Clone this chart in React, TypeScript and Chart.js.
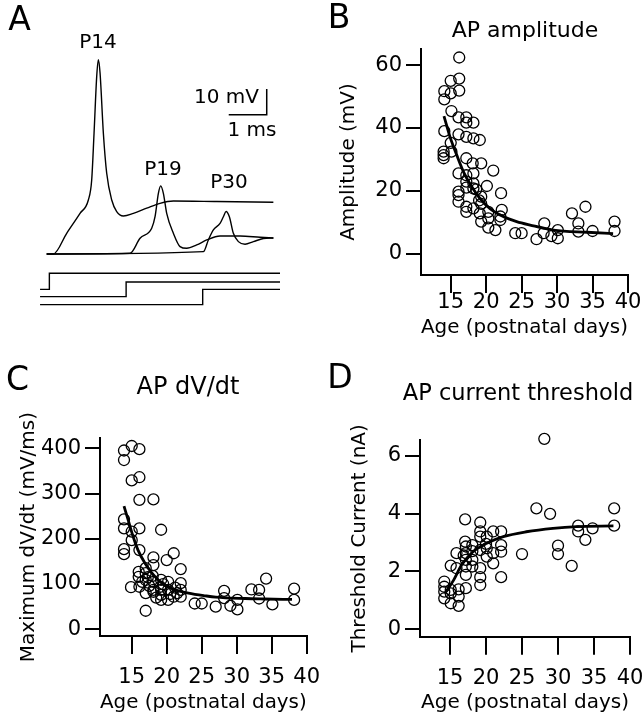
import React, { useEffect, useRef } from "react";
import { Chart, registerables } from "chart.js";

Chart.register(...registerables);

const FONT = '"DejaVu Sans", "Open Sans", sans-serif';

// ---------- Panel A: example action potentials (time in ms, voltage in mV) ----------
const p14Time = [0, 0.175, 0.526, 0.877, 1.096, 1.184, 1.246, 1.316, 1.36, 1.404, 1.491, 1.579, 1.711, 1.842, 2.018, 2.281, 2.632, 2.982, 3.333, 4.474, 5.965];
const p14Volt = [0, 0, 8.05, 15.8, 21.0, 28.8, 47.0, 69.1, 75.6, 70.4, 47.0, 31.4, 21.0, 16.5, 14.8, 15.8, 17.8, 19.7, 20.6, 20.4, 20.1];
const p19Time = [0, 2.193, 2.456, 2.763, 2.851, 2.939, 3.0, 3.07, 3.158, 3.333, 3.509, 3.684, 3.947, 4.211, 4.561, 5.088, 5.614, 5.965];
const p19Volt = [0, 0.26, 6.1, 10.0, 14.5, 23.6, 26.5, 23.6, 15.8, 8.05, 2.86, 2.2, 3.5, 5.45, 7.0, 7.0, 6.5, 6.2];
const p30Time = [0, 4.123, 4.254, 4.386, 4.561, 4.649, 4.719, 4.807, 4.912, 5.044, 5.219, 5.439, 5.702, 5.965];
const p30Volt = [0, 0.9, 5.45, 9.35, 11.9, 14.5, 16.5, 14.5, 8.05, 4.8, 3.8, 4.8, 6.0, 6.2];

// current step commands (onset time in ms) and their drawn levels
const stepStart = -0.175;
const stepEnd = 6.14;
const stepOnsets = [0.07, 2.09, 4.105];
const stepLowLevels = [-13.8, -16.6, -19.7];
const stepHighLevels = [-7.5, -10.9, -13.8];

// scale bar: 1 ms, 10 mV
const scaleBarTime = [4.79, 5.79, 5.79];
const scaleBarVolt = [54.2, 54.2, 64.2];

// ---------- Panel B: AP amplitude ----------
const ageB = [16.2, 15.0, 16.2, 14.1, 15.0, 16.2, 14.1, 15.1, 16.1, 17.2, 17.2, 18.2, 14.1, 16.1, 17.2, 18.2, 19.1, 15.0, 14.0, 14.0, 14.0, 15.1, 17.2, 16.1, 17.2, 18.2, 18.1, 19.3, 21.0, 17.2, 18.2, 17.2, 16.1, 16.1, 16.1, 18.2, 20.1, 22.1, 17.2, 17.2, 18.2, 19.3, 19.3, 19.1, 20.3, 20.3, 19.3, 20.3, 21.3, 22.0, 22.2, 22.0, 24.1, 25.0, 27.1, 28.2, 28.1, 29.2, 30.1, 30.1, 32.1, 33.0, 33.0, 34.0, 35.0, 38.1, 38.1, 18.6, 19.0];
const ampB = [62.4, 55.0, 55.7, 51.7, 51.0, 51.9, 49.1, 45.4, 43.4, 43.4, 41.7, 41.7, 39.0, 38.0, 37.2, 36.7, 36.2, 35.3, 32.5, 31.4, 30.4, 32.5, 30.4, 25.6, 25.0, 25.6, 28.8, 28.8, 26.5, 23.0, 22.4, 21.1, 19.8, 18.7, 16.6, 20.8, 21.6, 19.3, 15.0, 13.4, 14.5, 18.2, 15.9, 12.9, 13.4, 11.3, 10.3, 8.4, 7.6, 11.9, 14.0, 10.8, 6.6, 6.6, 4.7, 9.7, 6.6, 5.7, 7.6, 5.0, 12.9, 9.7, 7.1, 15.0, 7.3, 10.3, 7.3, 20.5, 17.0];
const fitAgeB = [14.05, 14.9, 15.85, 16.8, 17.95, 19.1, 20.5, 22.4, 24.3, 26.2, 29.5, 34.2, 37.9];
const fitAmpB = [43.8, 37.2, 31.4, 26.1, 21.4, 17.7, 14.5, 11.9, 10.3, 9.2, 7.6, 6.9, 6.5];
const xTicksAge = [15, 20, 25, 30, 35, 40];
const yTicksB = [0, 20, 40, 60];

// ---------- Panel C: AP dV/dt ----------
const ageC = [13.9, 15.0, 16.1, 13.9, 15.0, 16.1, 16.1, 18.1, 13.9, 13.9, 15.0, 16.1, 15.0, 19.2, 13.9, 13.9, 16.1, 16.0, 16.0, 17.0, 17.0, 18.1, 18.1, 20.0, 21.0, 22.0, 14.9, 16.1, 17.0, 18.1, 19.2, 20.2, 17.0, 18.1, 19.2, 20.2, 17.0, 19.2, 20.2, 19.2, 21.0, 22.0, 22.0, 22.0, 24.0, 25.0, 27.0, 28.2, 28.2, 29.1, 30.1, 30.1, 32.1, 33.2, 33.2, 34.2, 35.1, 38.2, 38.2, 17.5, 18.5, 19.5, 21.5, 16.5, 18.0, 20.5, 21.2, 17.3, 18.1, 19.1];
const dvdtC = [395, 405, 398, 374, 329, 336, 286, 287, 243, 223, 216, 223, 197, 220, 177, 166, 175, 127, 116, 135, 124, 159, 142, 153, 168, 133, 93, 94, 109, 105, 109, 105, 80, 87, 87, 87, 41, 65, 65, 76, 72, 102, 87, 72, 57, 57, 50, 85, 69, 52, 65, 44, 88, 87, 68, 112, 55, 90, 65, 96, 70, 100, 80, 105, 118, 78, 92, 115, 83, 94];
const fitAgeC = [13.9, 14.5, 15.2, 15.9, 16.9, 17.9, 19.3, 21.2, 23.1, 25.5, 27.0, 31.2, 34.0, 37.9];
const fitDvdtC = [272, 241, 205, 175, 146, 124, 102, 87, 80, 74, 71, 68, 67, 66];
const yTicksC = [0, 100, 200, 300, 400];

// ---------- Panel D: AP current threshold ----------
const ageD = [28.1, 27.0, 28.9, 37.8, 37.8, 32.8, 32.8, 34.8, 33.8, 30.0, 30.0, 31.9, 25.0, 17.1, 19.2, 19.2, 19.2, 20.1, 21.0, 22.1, 17.1, 18.1, 17.2, 22.1, 22.1, 21.0, 20.1, 20.1, 19.2, 21.0, 22.1, 19.2, 19.2, 19.2, 17.2, 17.2, 18.1, 18.1, 17.2, 17.2, 15.9, 15.1, 15.9, 17.2, 16.2, 14.2, 14.2, 14.2, 14.2, 15.1, 15.1, 16.2, 16.2, 15.1, 18.1, 16.9, 20.0];
const threshD = [6.58, 4.18, 3.99, 4.18, 3.58, 3.58, 3.38, 3.49, 3.09, 2.89, 2.6, 2.19, 2.6, 3.8, 3.69, 3.38, 3.2, 3.2, 3.38, 3.38, 3.03, 2.91, 2.86, 2.91, 2.68, 2.63, 2.8, 2.51, 2.74, 2.28, 1.8, 2.11, 1.8, 1.53, 2.63, 2.4, 2.4, 2.17, 2.17, 1.88, 2.63, 2.2, 2.11, 1.42, 1.38, 1.65, 1.47, 1.3, 1.07, 1.36, 0.9, 0.81, 1.13, 1.24, 2.7, 2.55, 2.95];
const fitAgeD = [14.3, 15.5, 16.6, 18.2, 20.1, 22.4, 25.6, 29.3, 32.6, 37.7];
const fitThreshD = [1.24, 1.7, 2.22, 2.68, 2.97, 3.2, 3.37, 3.49, 3.55, 3.57];
const yTicksD = [0, 2, 4, 6];

// ---------- helpers ----------
const textPlugin = {
  id: "panelText",
  afterDraw(chart: any, _args: any, opts: any) {
    const ctx = chart.ctx;
    (opts.items || []).forEach((t: any) => {
      ctx.save();
      ctx.font = `${t.size}px ${FONT}`;
      ctx.fillStyle = "#000";
      ctx.textAlign = t.align || "center";
      ctx.textBaseline = "middle";
      ctx.fillText(t.text, t.x, t.y);
      ctx.restore();
    });
  },
};

const pts = (xs: number[], ys: number[]) => xs.map((x, i) => ({ x, y: ys[i] }));

function traceDataset(xs: number[], ys: number[], smooth: boolean, width = 1.4) {
  return {
    data: pts(xs, ys),
    showLine: true,
    borderColor: "#000",
    borderWidth: width,
    pointRadius: 0,
    tension: smooth ? 0.4 : 0,
    cubicInterpolationMode: smooth ? "monotone" : "default",
  };
}

function panelAConfig(): any {
  const steps = stepOnsets.map((t, i) =>
    traceDataset(
      [stepStart, t, t, stepEnd],
      [stepLowLevels[i], stepLowLevels[i], stepHighLevels[i], stepHighLevels[i]],
      false,
      1.4
    )
  );
  return {
    type: "scatter",
    data: {
      datasets: [
        traceDataset(p14Time, p14Volt, true),
        traceDataset(p19Time, p19Volt, true),
        traceDataset(p30Time, p30Volt, true),
        ...steps,
        traceDataset(scaleBarTime, scaleBarVolt, false, 1.5),
      ],
    },
    options: {
      responsive: false,
      animation: false,
      events: [],
      layout: { padding: 0 },
      scales: {
        x: { type: "linear", display: false, min: -1.229, max: 7.192 },
        y: { type: "linear", display: false, min: -25.7, max: 98.83 },
      },
      plugins: {
        legend: { display: false },
        tooltip: { enabled: false },
        panelText: {
          items: [
            { text: "A", x: 19.5, y: 21, size: 33 },
            { text: "P14", x: 98, y: 43, size: 20 },
            { text: "P19", x: 163, y: 170, size: 20 },
            { text: "P30", x: 229, y: 183, size: 20 },
            { text: "10 mV", x: 259, y: 98, size: 20, align: "right" },
            { text: "1 ms", x: 252, y: 131, size: 20 },
          ],
        },
      },
    },
  };
}

function scatterConfig(o: any): any {
  return {
    type: "scatter",
    data: {
      datasets: [
        {
          data: pts(o.fitX, o.fitY),
          showLine: true,
          borderColor: "#000",
          borderWidth: 2.8,
          pointRadius: 0,
          tension: 0.4,
          cubicInterpolationMode: "monotone",
        },
        {
          data: pts(o.xs, o.ys),
          showLine: false,
          clip: false,
          pointRadius: 5.5,
          pointStyle: "circle",
          pointBorderColor: "#000",
          pointBackgroundColor: "rgba(0,0,0,0)",
          pointBorderWidth: 1.3,
        },
      ],
    },
    options: {
      responsive: false,
      animation: false,
      events: [],
      layout: { padding: { left: 0, top: o.padTop, right: o.padRight, bottom: 0 } },
      plugins: {
        legend: { display: false },
        tooltip: { enabled: false },
        panelText: { items: o.texts },
      },
      scales: {
        x: {
          type: "linear",
          position: "bottom",
          min: o.xMin,
          max: o.xMax,
          afterBuildTicks: (s: any) => {
            s.ticks = xTicksAge.map((v) => ({ value: v }));
          },
          afterFit: (s: any) => {
            s.height = o.xH;
            s.paddingLeft = 0;
            s.paddingRight = 0;
          },
          border: { display: true, color: "#000", width: 2 },
          grid: { drawOnChartArea: false, drawTicks: true, tickLength: 18, color: "#000", lineWidth: 2 },
          ticks: {
            color: "#000",
            font: { family: FONT, size: 21 },
            padding: o.xTickPad,
            maxRotation: 0,
            minRotation: 0,
            autoSkip: false,
          },
          title: {
            display: true,
            text: "Age (postnatal days)",
            color: "#000",
            font: { family: FONT, size: 20 },
            padding: { top: 0, bottom: o.xTitlePad },
          },
        },
        y: {
          type: "linear",
          position: "left",
          min: o.yMin,
          max: o.yMax,
          afterBuildTicks: (s: any) => {
            s.ticks = o.yTicks.map((v: number) => ({ value: v }));
          },
          afterFit: (s: any) => {
            s.width = o.yW;
            s.paddingTop = 0;
            s.paddingBottom = 0;
          },
          border: { display: true, color: "#000", width: 2 },
          grid: { drawOnChartArea: false, drawTicks: true, tickLength: 15, color: "#000", lineWidth: 2 },
          ticks: { color: "#000", font: { family: FONT, size: 21 }, padding: 4, autoSkip: false },
          title: {
            display: true,
            text: o.yTitle,
            color: "#000",
            font: { family: FONT, size: 20 },
            padding: { top: o.yTitlePad, bottom: 0 },
          },
        },
      },
    },
  };
}

function ChartBox(props: { left: number; top: number; width: number; height: number; make: () => any }) {
  const ref = useRef<HTMLCanvasElement>(null);
  useEffect(() => {
    const chart = new Chart(ref.current as HTMLCanvasElement, { ...props.make(), plugins: [textPlugin] });
    return () => chart.destroy();
  }, []);
  return (
    <canvas
      ref={ref}
      width={props.width}
      height={props.height}
      style={{ position: "absolute", left: props.left, top: props.top, width: props.width, height: props.height, display: "block" }}
    />
  );
}

export default function App() {
  return (
    <div style={{ position: "absolute", left: 0, top: 0, width: 643, height: 720, background: "#fff", overflow: "hidden" }}>
      <ChartBox left={0} top={0} width={320} height={320} make={panelAConfig} />
      <ChartBox
        left={320}
        top={0}
        width={323}
        height={360}
        make={() =>
          scatterConfig({
            xs: ageB, ys: ampB, fitX: fitAgeB, fitY: fitAmpB,
            xMin: 10.81, xMax: 40, yMin: -6.67, yMax: 65.1, yTicks: yTicksB,
            padTop: 49, padRight: 15, yW: 101, xH: 85,
            xTickPad: -3, xTitlePad: 20, yTitlePad: 16.3,
            yTitle: "Amplitude (mV)",
            texts: [
              { text: "B", x: 19, y: 19, size: 33 },
              { text: "AP amplitude", x: 205, y: 31, size: 22 },
            ],
          })
        }
      />
      <ChartBox
        left={0}
        top={360}
        width={340}
        height={360}
        make={() =>
          scatterConfig({
            xs: ageC, ys: dvdtC, fitX: fitAgeC, fitY: fitDvdtC,
            xMin: 10.47, xMax: 40, yMin: -14.8, yMax: 422, yTicks: yTicksC,
            padTop: 78.3, padRight: 33.3, yW: 100, xH: 84,
            xTickPad: 11, xTitlePad: 5, yTitlePad: 16.3,
            yTitle: "Maximum dV/dt (mV/ms)",
            texts: [
              { text: "C", x: 17.5, y: 21, size: 33 },
              { text: "AP dV/dt", x: 188, y: 28, size: 24 },
            ],
          })
        }
      />
      <ChartBox
        left={320}
        top={360}
        width={323}
        height={360}
        make={() =>
          scatterConfig({
            xs: ageD, ys: threshD, fitX: fitAgeD, fitY: fitThreshD,
            xMin: 10.83, xMax: 40, yMin: -0.256, yMax: 6.54, yTicks: yTicksD,
            padTop: 80, padRight: 13, yW: 100, xH: 83.3,
            xTickPad: 11, xTitlePad: 5, yTitlePad: 27.5,
            yTitle: "Threshold Current (nA)",
            texts: [
              { text: "D", x: 20, y: 19, size: 33 },
              { text: "AP current threshold", x: 198, y: 34, size: 22.5 },
            ],
          })
        }
      />
    </div>
  );
}
